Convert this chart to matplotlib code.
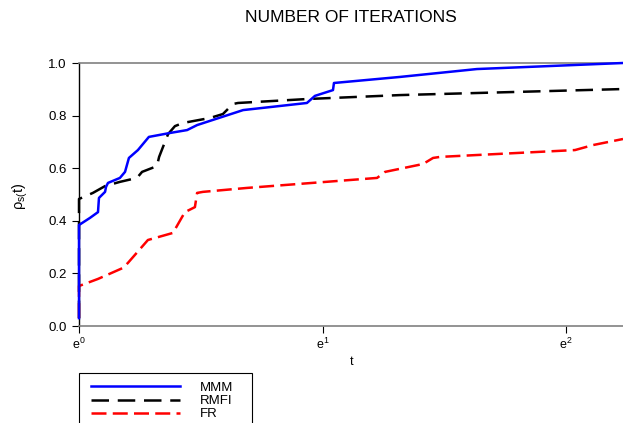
import numpy as np
import matplotlib
matplotlib.use("Agg")
import matplotlib.pyplot as plt
from matplotlib.patches import Rectangle

plt.rcParams['font.family'] = ['Liberation Sans', 'DejaVu Sans']
plt.rcParams['mathtext.fontset'] = 'custom'
plt.rcParams['mathtext.rm'] = 'Liberation Sans'
plt.rcParams['mathtext.it'] = 'Liberation Sans:italic'

# ln(t) values and profile values rho_s(t)
mmm_lnt = [0.0, 0.0, 0.045, 0.078, 0.082, 0.107, 0.111, 0.119, 0.168, 0.189, 0.205,
           0.242, 0.287, 0.374, 0.444, 0.485, 0.674, 0.936, 0.969, 1.043, 1.047,
           1.318, 1.634, 2.234]
mmm_rho = [0.03, 0.384, 0.411, 0.433, 0.487, 0.510, 0.529, 0.544, 0.563, 0.586, 0.639,
           0.669, 0.719, 0.734, 0.745, 0.764, 0.821, 0.848, 0.875, 0.897, 0.924,
           0.947, 0.977, 1.0]

rmfi_lnt = [0.0, 0.0, 0.057, 0.107, 0.168, 0.238, 0.259, 0.320, 0.329, 0.345, 0.366,
            0.394, 0.427, 0.538, 0.591, 0.632, 0.653, 0.936, 1.318, 2.234]
rmfi_rho = [0.03, 0.483, 0.506, 0.532, 0.548, 0.563, 0.586, 0.608, 0.643, 0.681, 0.730,
            0.760, 0.772, 0.791, 0.806, 0.844, 0.848, 0.863, 0.878, 0.901]

fr_lnt = [0.0, 0.0, 0.078, 0.181, 0.201, 0.283, 0.386, 0.423, 0.435, 0.476, 0.485,
          0.509, 0.690, 1.224, 1.257, 1.413, 1.454, 1.483, 2.037, 2.111, 2.234]
fr_rho = [0.03, 0.152, 0.179, 0.221, 0.240, 0.327, 0.354, 0.414, 0.433, 0.452, 0.506,
          0.510, 0.525, 0.563, 0.586, 0.616, 0.639, 0.643, 0.669, 0.688, 0.711]

labels = ['MMM', 'RMFI', 'FR']
x_ticks_exp = [0, 1, 2]
y_ticks = [0.0, 0.2, 0.4, 0.6, 0.8, 1.0]

W, H = 623, 423
fig = plt.figure(figsize=(W / 100, H / 100), dpi=100)
ax = fig.add_axes([79 / W, 1 - 326 / H, 1 - 79 / W, (326 - 63) / H])
ax.set_xscale('log', base=np.e)

lw = 1.8
ax.plot(np.exp(mmm_lnt), mmm_rho, color='#0000ff', lw=lw, label=labels[0], clip_on=False, zorder=3)
ax.plot(np.exp(rmfi_lnt), rmfi_rho, color='black', lw=lw, dashes=(7, 3.5), label=labels[1], clip_on=False, zorder=2)
ax.plot(np.exp(fr_lnt), fr_rho, color='#ff0000', lw=lw, dashes=(6, 2.5), label=labels[2], clip_on=False, zorder=2)

ax.set_xlim(1, np.exp(2.234))
ax.set_ylim(0, 1)
ax.set_xticks([np.exp(k) for k in x_ticks_exp])
ax.set_xticklabels([r'$\mathregular{e^{%d}}$' % k for k in x_ticks_exp])
ax.xaxis.set_minor_locator(matplotlib.ticker.NullLocator())
ax.set_yticks(y_ticks)
ax.set_yticklabels(['%.1f' % v for v in y_ticks])
ax.tick_params(axis='y', labelsize=9.5, length=5, width=0.8, direction='out', pad=4)
ax.tick_params(axis='x', labelsize=9, length=5, width=0.8, direction='out', pad=3)

for side in ['top', 'bottom']:
    ax.spines[side].set_color('#808080')
    ax.spines[side].set_linewidth(1.2)
ax.spines['left'].set_color('black')
ax.spines['left'].set_linewidth(1.0)
ax.spines['right'].set_visible(False)

fig.text(351 / W, 1 - 18 / H, 'NUMBER OF ITERATIONS', ha='center', va='center', fontsize=12.5)
fig.text(352 / W, 1 - 362 / H, 't', ha='center', va='center', fontsize=9)
fig.text(20 / W, 1 - 196 / H, r'$\mathregular{\rho_{s(}t)}$', ha='center', va='center',
         rotation=90, fontsize=10.5)

leg = fig.legend(loc='upper left', bbox_to_anchor=(88 / W, 1 - 379 / H), fontsize=9.5,
                 handlelength=6.8, handletextpad=1.45, labelspacing=0.08, borderpad=0.2,
                 frameon=False, borderaxespad=0)
fig.patches.append(Rectangle((79 / W, 1 - 440 / H), (252 - 79) / W, (440 - 373) / H,
                             transform=fig.transFigure, fill=False, edgecolor='black',
                             linewidth=0.8, figure=fig))

fig.savefig('out.png', dpi=100)
